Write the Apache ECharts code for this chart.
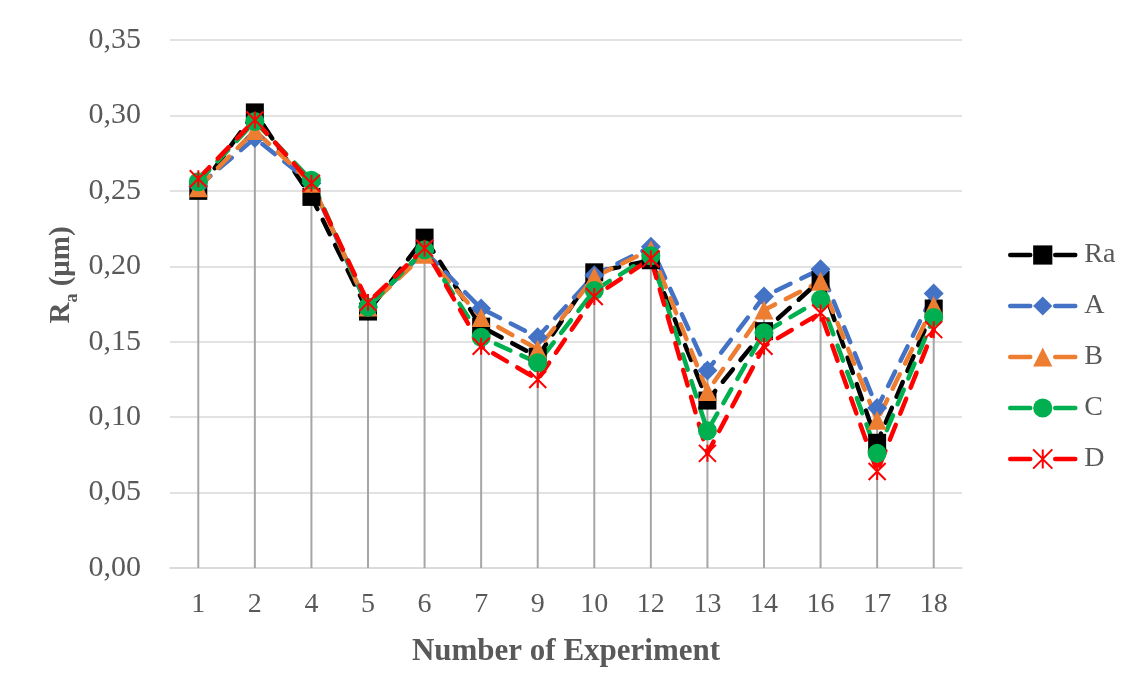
<!DOCTYPE html>
<html>
<head>
<meta charset="utf-8">
<script src="https://cdn.jsdelivr.net/npm/echarts@6/dist/echarts.min.js"></script>
<style>
  html, body { margin: 0; padding: 0; background: #fff; }
  #main { width: 1139px; height: 693px; }
</style>
</head>
<body>
<div id="main"></div>
<script>
// experiment numbers
var experiments = ['1', '2', '4', '5', '6', '7', '9', '10', '12', '13', '14', '16', '17', '18'];
var yTicks = ['0,00', '0,05', '0,10', '0,15', '0,20', '0,25', '0,30', '0,35'];

// measured and model values
var ra = [0.250, 0.302, 0.246, 0.170, 0.219, 0.160, 0.140, 0.196, 0.204, 0.111, 0.157, 0.191, 0.083, 0.172];
var modelA = [0.253, 0.285, 0.255, 0.173, 0.210, 0.172, 0.153, 0.194, 0.213, 0.131, 0.180, 0.198, 0.106, 0.182];
var modelB = [0.252, 0.290, 0.255, 0.173, 0.208, 0.166, 0.145, 0.193, 0.211, 0.117, 0.171, 0.190, 0.098, 0.174];
var modelC = [0.256, 0.296, 0.257, 0.173, 0.211, 0.153, 0.136, 0.184, 0.207, 0.091, 0.156, 0.178, 0.076, 0.166];
var modelD = [0.258, 0.297, 0.255, 0.176, 0.212, 0.147, 0.125, 0.180, 0.205, 0.076, 0.147, 0.169, 0.064, 0.158];

// drop lines go from the highest point down to the axis
var dropTop = experiments.map(function (e, i) {
  return Math.max(ra[i], modelA[i], modelB[i], modelC[i], modelD[i]);
});

var font = '"Liberation Serif", "Times New Roman", serif';
var textColor = '#595959';
var starPath = 'path://M0,0L10,10M10,0L0,10M5,0L5,10';

function lineSeries(name, data, color, symbol, size) {
  return {
    name: name,
    type: 'line',
    data: data,
    symbol: symbol,
    symbolSize: size,
    z: 3,
    lineStyle: { color: color, width: 4.5, type: [16, 12], cap: 'round' },
    itemStyle: { color: color }
  };
}

var chart = echarts.init(document.getElementById('main'));

var dSeries = lineSeries('D', modelD, '#FF0000', starPath, 17);
dSeries.itemStyle = { color: '#FF0000', borderColor: '#FF0000', borderWidth: 2 };

chart.setOption({
  animation: false,
  textStyle: { fontFamily: font },
  grid: { left: 170, right: 177, top: 40, bottom: 125 },
  legend: {
    data: ['Ra', 'A', 'B', 'C', 'D'],
    orient: 'vertical',
    left: 1003,
    top: 236,
    itemWidth: 65,
    itemHeight: 24,
    itemGap: 23,
    lineStyle: { type: [20, 25], width: 4.5, cap: 'round' },
    textStyle: { fontFamily: font, fontSize: 28, color: textColor, padding: [0, 0, 0, 4] }
  },
  xAxis: {
    type: 'category',
    data: experiments,
    boundaryGap: true,
    axisTick: { show: false },
    axisLine: { lineStyle: { color: '#d9d9d9', width: 1.5 } },
    axisLabel: { fontFamily: font, fontSize: 28, color: textColor, margin: 23 },
    name: 'Number of Experiment',
    nameLocation: 'middle',
    nameGap: 68,
    nameTextStyle: { fontFamily: font, fontSize: 31, fontWeight: 'bold', color: textColor }
  },
  yAxis: {
    type: 'value',
    min: 0,
    max: 0.35,
    interval: 0.05,
    axisLine: { show: false },
    axisTick: { show: false },
    splitLine: { lineStyle: { color: '#d9d9d9', width: 1.5 } },
    axisLabel: {
      fontFamily: font, fontSize: 30, color: textColor, margin: 29,
      formatter: function (v) { return yTicks[Math.round(v / 0.05)]; }
    }
  },
  graphic: [{
    type: 'text',
    x: 62,
    y: 275,
    rotation: Math.PI / 2,
    style: {
      text: '{r|R}{s|a}{r| (μm)}',
      align: 'center',
      verticalAlign: 'middle',
      fill: textColor,
      rich: {
        r: { fontFamily: font, fontSize: 29, fontWeight: 'bold', fill: textColor, lineHeight: 38, verticalAlign: 'middle' },
        s: { fontFamily: font, fontSize: 18, fontWeight: 'bold', fill: textColor, lineHeight: 18, verticalAlign: 'bottom' }
      }
    }
  }],
  series: [
    {
      name: 'drop',
      type: 'bar',
      data: dropTop,
      barWidth: 2,
      z: 1,
      itemStyle: { color: '#a6a6a6' },
      silent: true
    },
    lineSeries('Ra', ra, '#000000', 'rect', 18),
    lineSeries('A', modelA, '#4472C4', 'diamond', 20),
    lineSeries('B', modelB, '#ED7D31', 'triangle', 19),
    lineSeries('C', modelC, '#00B050', 'circle', 19),
    dSeries
  ]
});
</script>
</body>
</html>
